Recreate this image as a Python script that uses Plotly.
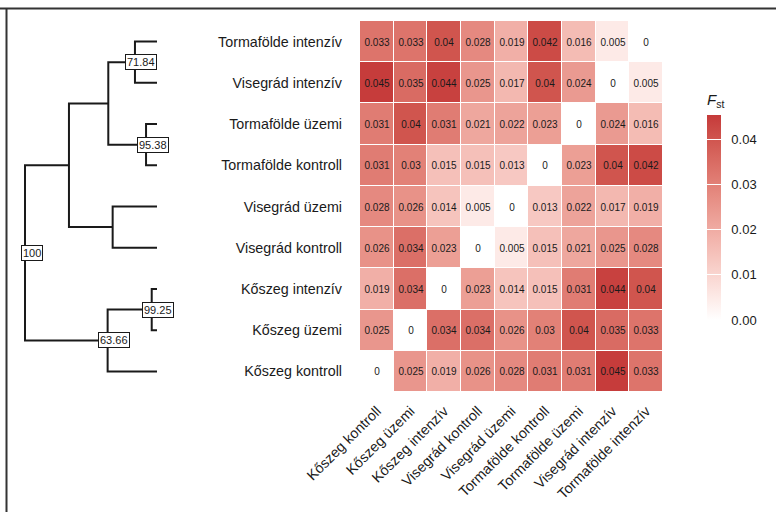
import plotly.graph_objects as go

# ---------------- data ----------------
populations = [
    "Kőszeg kontroll", "Kőszeg üzemi", "Kőszeg intenzív",
    "Visegrád kontroll", "Visegrád üzemi", "Tormafölde kontroll",
    "Tormafölde üzemi", "Visegrád intenzív", "Tormafölde intenzív",
]

# pairwise Fst, each list in the order of `populations`
fst_koszeg_kontroll      = [0, 0.025, 0.019, 0.026, 0.028, 0.031, 0.031, 0.045, 0.033]
fst_koszeg_uzemi         = [0.025, 0, 0.034, 0.034, 0.026, 0.03, 0.04, 0.035, 0.033]
fst_koszeg_intenziv      = [0.019, 0.034, 0, 0.023, 0.014, 0.015, 0.031, 0.044, 0.04]
fst_visegrad_kontroll    = [0.026, 0.034, 0.023, 0, 0.005, 0.015, 0.021, 0.025, 0.028]
fst_visegrad_uzemi       = [0.028, 0.026, 0.014, 0.005, 0, 0.013, 0.022, 0.017, 0.019]
fst_tormafolde_kontroll  = [0.031, 0.03, 0.015, 0.015, 0.013, 0, 0.023, 0.04, 0.042]
fst_tormafolde_uzemi     = [0.031, 0.04, 0.031, 0.021, 0.022, 0.023, 0, 0.024, 0.016]
fst_visegrad_intenziv    = [0.045, 0.035, 0.044, 0.025, 0.017, 0.04, 0.024, 0, 0.005]
fst_tormafolde_intenziv  = [0.033, 0.033, 0.04, 0.028, 0.019, 0.042, 0.016, 0.005, 0]

colorbar_ticks = [0.00, 0.01, 0.02, 0.03, 0.04]

# dendrogram: internal nodes (children, depth from root 0 to tips 1, bootstrap support)
tree_nodes    = ["n1", "n2", "n3", "n4", "n5", "n6", "n7", "root"]
tree_children = [
    ("Tormafölde intenzív", "Visegrád intenzív"),
    ("Tormafölde üzemi", "Tormafölde kontroll"),
    ("n1", "n2"),
    ("Visegrád üzemi", "Visegrád kontroll"),
    ("n3", "n4"),
    ("Kőszeg intenzív", "Kőszeg üzemi"),
    ("n6", "Kőszeg kontroll"),
    ("n5", "n7"),
]
tree_depth    = [0.833, 0.917, 0.631, 0.664, 0.333, 0.960, 0.626, 0.0]
tree_support  = ["71.84", "95.38", None, None, None, "99.25", "63.66", "100"]
tip_depth = 1.0

# ---------------- figure ----------------
z = [fst_koszeg_kontroll, fst_koszeg_uzemi, fst_koszeg_intenziv,
     fst_visegrad_kontroll, fst_visegrad_uzemi, fst_tormafolde_kontroll,
     fst_tormafolde_uzemi, fst_visegrad_intenziv, fst_tormafolde_intenziv]
text = [[f"{v:g}" for v in row] for row in z]


# Lab-interpolated white -> red colorscale (like ggplot's scale_fill_gradient)
def srgb_to_lab(c):
    def lin(u):
        u = u / 255
        return u / 12.92 if u <= 0.04045 else ((u + 0.055) / 1.055) ** 2.4
    r, g, b = [lin(u) for u in c]
    X = (0.4124 * r + 0.3576 * g + 0.1805 * b) / 0.95047
    Y = (0.2126 * r + 0.7152 * g + 0.0722 * b)
    Z = (0.0193 * r + 0.1192 * g + 0.9505 * b) / 1.08883
    f = lambda t: t ** (1 / 3) if t > 0.008856 else 7.787 * t + 16 / 116
    fx, fy, fz = f(X), f(Y), f(Z)
    return (116 * fy - 16, 500 * (fx - fy), 200 * (fy - fz))


def lab_to_srgb(L, a, b):
    fy = (L + 16) / 116
    fx = fy + a / 500
    fz = fy - b / 200
    finv = lambda t: t ** 3 if t ** 3 > 0.008856 else (t - 16 / 116) / 7.787
    X, Y, Z = finv(fx) * 0.95047, finv(fy), finv(fz) * 1.08883
    r = 3.2406 * X - 1.5372 * Y - 0.4986 * Z
    g = -0.9689 * X + 1.8758 * Y + 0.0415 * Z
    bb = 0.0557 * X - 0.2040 * Y + 1.0570 * Z
    def gam(u):
        u = max(0.0, min(1.0, u))
        return 12.92 * u if u <= 0.0031308 else 1.055 * u ** (1 / 2.4) - 0.055
    return tuple(int(round(255 * gam(u))) for u in (r, g, bb))


low, high = (255, 255, 255), (197, 58, 58)
L1, L2 = srgb_to_lab(low), srgb_to_lab(high)
colorscale = []
for i in range(11):
    t = i / 10
    c = lab_to_srgb(*[L1[k] + (L2[k] - L1[k]) * t for k in range(3)])
    colorscale.append([t, f"rgb{c}"])

W, H = 776, 512
hm_left, hm_right, hm_top, hm_bottom = 360, 663, 21, 392
cb_left, cb_bottom, cb_bar_len = 707, 320, 203

fig = go.Figure()
fig.add_trace(go.Heatmap(
    x=populations, y=populations, z=z, text=text,
    texttemplate="%{text}", textfont=dict(size=10, color="#1a1a1a", family="Liberation Sans, Arial"),
    colorscale=colorscale, zmin=0, zmax=0.0453, xgap=1, ygap=1,
    hoverinfo="skip",
    colorbar=dict(
        title=dict(text="<i>F</i><sub>st</sub>", side="top",
                   font=dict(size=15, family="Liberation Sans, Arial", color="#1a1a1a")),
        x=cb_left / W, xanchor="left", xpad=0,
        y=(H - cb_bottom) / H, yanchor="bottom", ypad=0,
        len=cb_bar_len + 26, lenmode="pixels", thickness=14, thicknessmode="pixels",
        outlinewidth=0, tickvals=colorbar_ticks,
        ticktext=["\u00a0\u00a0" + f"{t:.2f}" for t in colorbar_ticks],
        ticks="inside", ticklen=14, tickcolor="white", tickwidth=1,
        tickfont=dict(size=13, family="Liberation Sans, Arial", color="#1a1a1a"),
    ),
))

# dendrogram geometry
leaf_y = {p: i for i, p in enumerate(populations)}
node_y, node_x = dict(leaf_y), {p: tip_depth for p in populations}
for name, ch, d in zip(tree_nodes, tree_children, tree_depth):
    node_y[name] = (node_y[ch[0]] + node_y[ch[1]]) / 2
    node_x[name] = d

dx, dy = [], []
for name, ch in zip(tree_nodes, tree_children):
    a, b = ch
    dx += [node_x[a], node_x[name], node_x[name], node_x[b], None]
    dy += [node_y[a], node_y[a], node_y[b], node_y[b], None]

fig.add_trace(go.Scatter(x=dx, y=dy, mode="lines", xaxis="x2", yaxis="y2",
                         line=dict(color="#1a1a1a", width=2), hoverinfo="skip",
                         showlegend=False))

for name, s in zip(tree_nodes, tree_support):
    if s is None:
        continue
    fig.add_annotation(x=node_x[name], y=node_y[name], xref="x2", yref="y2",
                       text=s, showarrow=False, xshift=6.5,
                       font=dict(size=11, family="Liberation Sans, Arial", color="#1a1a1a"),
                       bgcolor="white", bordercolor="#1a1a1a", borderwidth=1, borderpad=1)

label_font = dict(size=14.3, family="Liberation Sans, Arial", color="#1a1a1a")
dend_right = 200
u_per_px = 1 / 132
fig.update_layout(
    width=W, height=H, margin=dict(l=0, r=0, t=0, b=0, autoexpand=False),
    paper_bgcolor="white", plot_bgcolor="white",
    xaxis=dict(domain=[hm_left / W, hm_right / W], categoryorder="array",
               categoryarray=populations, tickangle=-45, showgrid=False,
               zeroline=False, showline=False, ticks="", tickfont=label_font,
               ticklabelstandoff=7, anchor="y", automargin=False),
    yaxis=dict(domain=[(H - hm_bottom) / H, (H - hm_top) / H], categoryorder="array",
               categoryarray=populations, range=[-0.5, 8.5], showgrid=False,
               zeroline=False, showline=False, ticks="", tickfont=label_font,
               ticklabelstandoff=17, anchor="x", automargin=False),
    xaxis2=dict(domain=[0, dend_right / W], range=[-25 * u_per_px, (dend_right - 25) * u_per_px],
                visible=False, anchor="y2", automargin=False),
    yaxis2=dict(domain=[(H - hm_bottom) / H, (H - hm_top) / H], range=[-0.5, 8.5],
                visible=False, anchor="x2", automargin=False),
    shapes=[
        dict(type="line", xref="paper", yref="paper", x0=0, x1=1, y0=(H - 8.5) / H, y1=(H - 8.5) / H,
             line=dict(color="#333333", width=2), layer="above"),
        dict(type="line", xref="paper", yref="paper", x0=6.5 / W, x1=6.5 / W, y0=0, y1=(H - 8.5) / H,
             line=dict(color="#333333", width=2), layer="above"),
    ],
)

fig.write_html("out.html", config={"displayModeBar": False},
               post_script="document.body.style.margin='0px';")
